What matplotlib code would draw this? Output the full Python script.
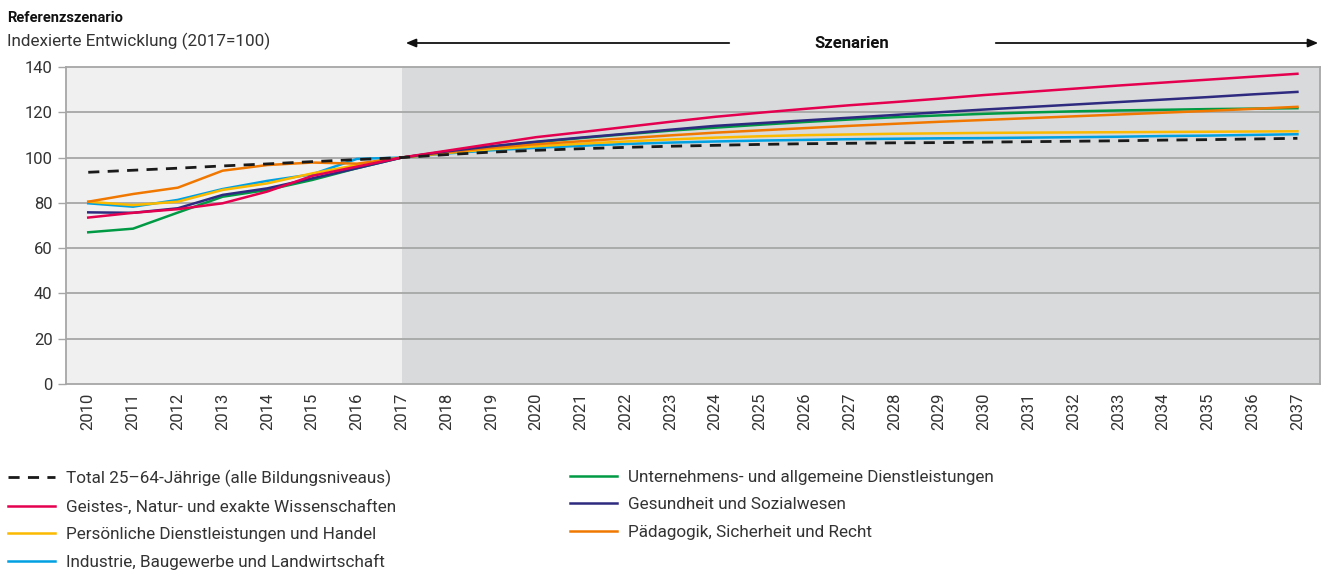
import matplotlib
matplotlib.use("Agg")
import matplotlib.pyplot as plt
import numpy as np
from matplotlib.lines import Line2D

plt.rcParams['font.family'] = ['Roboto', 'DejaVu Sans']

years = list(range(2010, 2038))

total = [93.5, 94.4, 95.3, 96.3, 97.2, 98.2, 99.1, 100.0,
         101.3, 102.4, 103.2, 103.9, 104.5, 105.0, 105.4, 105.8, 106.1, 106.3,
         106.5, 106.6, 106.8, 107.0, 107.2, 107.4, 107.7, 107.9, 108.2, 108.5]
geistes = [73.5, 75.6, 77.2, 79.8, 85.0, 91.9, 96.0, 100.0,
           103.0, 106.0, 109.0, 111.2, 113.5, 115.8, 118.0, 119.8, 121.5, 123.1,
           124.5, 126.0, 127.6, 129.0, 130.4, 131.8, 133.1, 134.4, 135.7, 137.0]
persoenlich = [80.5, 79.0, 80.5, 85.7, 88.6, 93.0, 96.7, 100.0,
               102.0, 103.7, 105.0, 106.1, 107.1, 108.0, 108.8, 109.4, 109.9, 110.2,
               110.5, 110.7, 110.9, 111.0, 111.1, 111.2, 111.3, 111.4, 111.5, 111.6]
industrie = [79.8, 78.3, 81.3, 86.1, 89.7, 92.6, 99.4, 100.0,
             101.8, 103.2, 104.3, 105.2, 106.0, 106.6, 107.1, 107.5, 107.8, 108.1,
             108.3, 108.5, 108.6, 108.8, 109.0, 109.2, 109.5, 109.7, 110.0, 110.3]
unternehmen = [67.0, 68.6, 75.7, 82.7, 85.7, 90.1, 95.3, 100.0,
               102.5, 104.8, 106.8, 108.6, 110.3, 111.9, 113.2, 114.5, 115.7, 116.8,
               117.8, 118.6, 119.3, 119.9, 120.4, 120.8, 121.1, 121.4, 121.6, 121.8]
gesundheit = [75.8, 75.6, 77.6, 83.5, 86.4, 90.8, 95.3, 100.0,
              102.7, 105.0, 107.0, 108.8, 110.5, 112.3, 114.0, 115.2, 116.4, 117.6,
              118.8, 120.0, 121.2, 122.3, 123.4, 124.5, 125.6, 126.7, 127.9, 129.0]
paedagogik = [80.5, 83.9, 86.7, 94.2, 96.7, 97.8, 97.3, 100.0,
              102.3, 104.3, 105.9, 107.2, 108.5, 109.8, 111.0, 112.0, 113.0, 114.0,
              114.9, 115.8, 116.6, 117.4, 118.2, 119.0, 119.8, 120.6, 121.5, 122.4]

labels_col1 = ["Total 25–64-Jährige (alle Bildungsniveaus)",
               "Geistes-, Natur- und exakte Wissenschaften",
               "Persönliche Dienstleistungen und Handel",
               "Industrie, Baugewerbe und Landwirtschaft"]
labels_col2 = ["Unternehmens- und allgemeine Dienstleistungen",
               "Gesundheit und Sozialwesen",
               "Pädagogik, Sicherheit und Recht"]

c_total = "#1a1a1a"
c_geistes = "#e4004f"
c_pers = "#fbb900"
c_ind = "#00a0e1"
c_unt = "#009a44"
c_ges = "#2e2a80"
c_paed = "#f07800"

fs = 12.3

fig = plt.figure(figsize=(13.44, 5.71), dpi=100)
fig.patch.set_facecolor('white')
ax = fig.add_axes([0.049, 0.3275, 0.933, 0.5552])

ax.axvspan(2009.5, 2017, color="#f0f0f0", zorder=0, lw=0)
ax.axvspan(2017, 2037.5, color="#d9dadb", zorder=0, lw=0)

for yv in range(20, 140, 20):
    ax.axhline(yv, color="#a6a6a6", lw=1.3, zorder=1)

lw = 1.8
ax.plot(years, industrie, color=c_ind, lw=lw, zorder=3)
ax.plot(years, persoenlich, color=c_pers, lw=lw, zorder=3)
ax.plot(years, paedagogik, color=c_paed, lw=lw, zorder=4)
ax.plot(years, unternehmen, color=c_unt, lw=lw, zorder=3)
ax.plot(years, gesundheit, color=c_ges, lw=lw, zorder=4)
ax.plot(years, geistes, color=c_geistes, lw=lw, zorder=4)
ax.plot(years, total, color=c_total, lw=2, ls=(0, (4, 3)), zorder=5)

ax.set_xlim(2009.5, 2037.5)
ax.set_ylim(0, 140)
ax.set_xticks(years)
ax.set_xticklabels([str(y) for y in years], rotation=90, fontsize=12, color="#333333")
ax.set_yticks(range(0, 141, 20))
ax.tick_params(axis='y', labelsize=12, labelcolor="#333333", color="#a6a6a6",
               length=6, width=1)
ax.tick_params(axis='x', length=0, pad=6)
for s in ax.spines.values():
    s.set_color("#a6a6a6")
    s.set_linewidth(1.3)

fig.text(7 / 1344, 1 - 18 / 571, "Referenzszenario", fontsize=10.5, fontweight='bold',
         va='center', ha='left', color="#111111")
fig.text(7 / 1344, 1 - 41 / 571, "Indexierte Entwicklung (2017=100)", fontsize=fs,
         va='center', ha='left', color="#333333")

ay = 1 - 43 / 571
fig.text(852 / 1344, ay, "Szenarien", fontsize=12, fontweight='bold',
         va='center', ha='center', color="#111111")
fig.add_artist(matplotlib.patches.FancyArrowPatch(
    (732 / 1344, ay), (403 / 1344, ay), transform=fig.transFigure,
    arrowstyle='-|>,head_length=6,head_width=2.5', color="#111111", lw=1.3,
    mutation_scale=1))
fig.add_artist(matplotlib.patches.FancyArrowPatch(
    (993 / 1344, ay), (1321 / 1344, ay), transform=fig.transFigure,
    arrowstyle='-|>,head_length=6,head_width=2.5', color="#111111", lw=1.3,
    mutation_scale=1))

h1 = [Line2D([], [], color=c_total, lw=2, ls=(0, (4, 3))),
      Line2D([], [], color=c_geistes, lw=lw),
      Line2D([], [], color=c_pers, lw=lw),
      Line2D([], [], color=c_ind, lw=lw)]
h2 = [Line2D([], [], color=c_unt, lw=lw),
      Line2D([], [], color=c_ges, lw=lw),
      Line2D([], [], color=c_paed, lw=lw)]

leg_kw = dict(frameon=False, fontsize=fs, handlelength=2.75, handletextpad=0.65,
              labelspacing=0.72, borderaxespad=0, borderpad=0, loc='upper left',
              labelcolor="#333333")
leg1 = fig.legend(h1, labels_col1, bbox_to_anchor=(8 / 1344, 1 - 470 / 571), **leg_kw)
leg2 = fig.legend(h2, labels_col2, bbox_to_anchor=(570 / 1344, 1 - 470 / 571), **leg_kw)

fig.savefig("out.png", dpi=100)
